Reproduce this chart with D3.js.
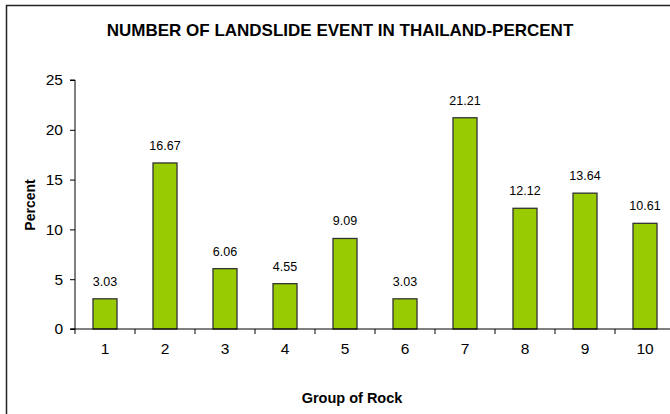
<!DOCTYPE html>
<html>
<head>
<meta charset="utf-8">
<script src="https://cdn.jsdelivr.net/npm/d3@7"></script>
<style>
  body { margin: 0; background: #fff; }
  text { font-family: "Liberation Sans", Arial, sans-serif; fill: #000; }
</style>
</head>
<body>
<svg width="670" height="414"></svg>
<script>
// data
var groups = ["1", "2", "3", "4", "5", "6", "7", "8", "9", "10"];
var percents = [3.03, 16.67, 6.06, 4.55, 9.09, 3.03, 21.21, 12.12, 13.64, 10.61];
var yTicks = [0, 5, 10, 15, 20, 25];

var svg = d3.select("svg"),
    margin = {top: 80, right: -5, bottom: 85, left: 75},
    width = +svg.attr("width") - margin.left - margin.right,
    height = +svg.attr("height") - margin.top - margin.bottom,
    g = svg.append("g").attr("transform", "translate(" + margin.left + "," + margin.top + ")");

// chart frame (right and bottom fall outside the picture)
svg.append("rect")
    .attr("x", 6.5).attr("y", 5.5)
    .attr("width", 700).attr("height", 450)
    .attr("fill", "none")
    .attr("stroke", "#222")
    .attr("stroke-width", 1.5);

svg.append("text")
    .attr("x", 340)
    .attr("y", 36)
    .attr("text-anchor", "middle")
    .style("font-size", "17px")
    .style("font-weight", "bold")
    .text("NUMBER OF LANDSLIDE EVENT IN THAILAND-PERCENT");

var x = d3.scaleBand()
    .domain(groups)
    .range([0, width]);

var y = d3.scaleLinear()
    .domain([0, 25])
    .range([height, 0]);

var data = groups.map(function(d, i) { return {group: d, value: percents[i]}; });

var bw = x.bandwidth() * 0.4;

g.selectAll(".bar")
    .data(data)
    .enter().append("rect")
    .attr("class", "bar")
    .attr("x", function(d) { return x(d.group) + (x.bandwidth() - bw) / 2; })
    .attr("y", function(d) { return y(d.value); })
    .attr("width", bw)
    .attr("height", function(d) { return height - y(d.value); })
    .attr("fill", "#99cc00")
    .attr("stroke", "#333")
    .attr("stroke-width", 1.3);

g.selectAll(".val")
    .data(data)
    .enter().append("text")
    .attr("class", "val")
    .attr("x", function(d) { return x(d.group) + x.bandwidth() / 2; })
    .attr("y", function(d) { return y(d.value) - 13; })
    .attr("text-anchor", "middle")
    .style("font-size", "12.5px")
    .text(function(d) { return d.value.toFixed(2); });

// y axis
var yAxis = g.append("g")
    .call(d3.axisLeft(y).tickValues(yTicks).tickSize(5).tickPadding(7));
yAxis.select(".domain").attr("stroke", "#000").attr("d", "M-5," + height + "H0V0H-5");
yAxis.selectAll("text").style("font-size", "15.5px").attr("font-family", null);

// x axis: labels centred, ticks between categories
var xAxis = g.append("g")
    .attr("transform", "translate(0," + height + ")")
    .call(d3.axisBottom(x).tickSize(0).tickPadding(14));
xAxis.select(".domain").attr("stroke", "#000").attr("d", "M-4,0H" + width);
xAxis.selectAll("text").style("font-size", "15.5px").attr("font-family", null);

xAxis.selectAll(".sep")
    .data(groups)
    .enter().append("line")
    .attr("class", "sep")
    .attr("x1", function(d) { return x(d); })
    .attr("x2", function(d) { return x(d); })
    .attr("y1", 0)
    .attr("y2", 5)
    .attr("stroke", "#000");

svg.append("text")
    .attr("x", 352)
    .attr("y", 403)
    .attr("text-anchor", "middle")
    .style("font-size", "14.5px")
    .style("font-weight", "bold")
    .text("Group of Rock");

svg.append("text")
    .attr("transform", "translate(35,205) rotate(-90)")
    .attr("text-anchor", "middle")
    .style("font-size", "14px")
    .style("font-weight", "bold")
    .text("Percent");
</script>
</body>
</html>
